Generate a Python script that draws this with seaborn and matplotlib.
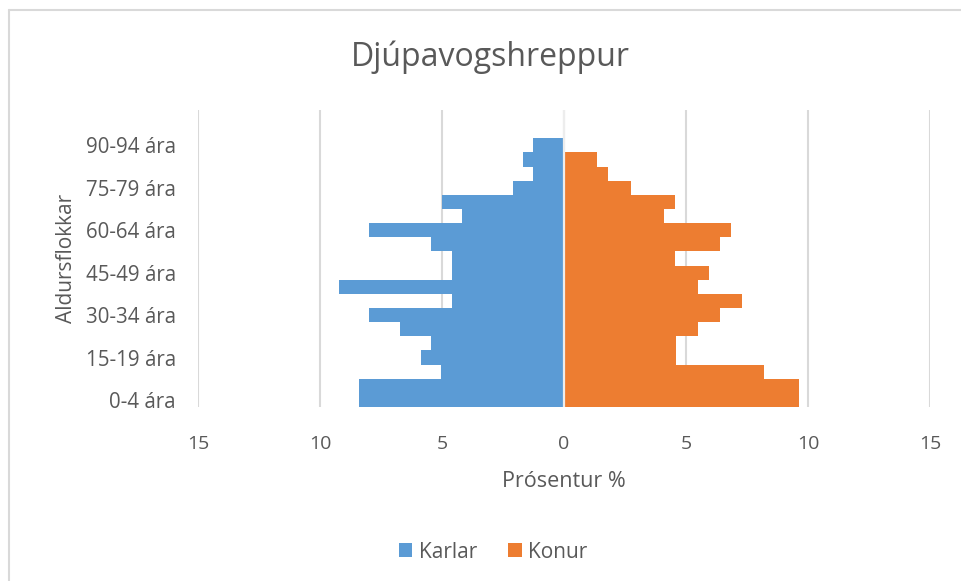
import matplotlib
matplotlib.use("Agg")
import matplotlib.pyplot as plt
from matplotlib.ticker import FixedLocator, FuncFormatter
from matplotlib.lines import Line2D
from matplotlib.patches import Patch
import seaborn as sns
import pandas as pd

# Age groups, youngest first
age_groups = ["0-4 ára", "5-9 ára", "10-14 ára", "15-19 ára", "20-24 ára",
              "25-29 ára", "30-34 ára", "35-39 ára", "40-44 ára", "45-49 ára",
              "50-54 ára", "55-59 ára", "60-64 ára", "65-69 ára", "70-74 ára",
              "75-79 ára", "80-84 ára", "85-89 ára", "90-94 ára"]

# Share of each age group, percent
karlar = [8.39, 8.39, 5.04, 5.87, 5.45, 6.72, 7.98, 4.60, 9.22, 4.60,
          4.60, 5.45, 7.98, 4.19, 5.01, 2.09, 1.26, 1.67, 1.26]
konur = [9.62, 9.62, 8.20, 4.58, 4.58, 5.48, 6.41, 7.31, 5.48, 5.94,
         4.56, 6.41, 6.83, 4.11, 4.56, 2.73, 1.79, 1.37, 0.0]

labelled_groups = ["0-4 ára", "15-19 ára", "30-34 ára", "45-49 ára",
                   "60-64 ára", "75-79 ára", "90-94 ára"]
x_ticks = [-15, -10, -5, 0, 5, 10, 15]

blue = "#5B9BD5"
orange = "#ED7D31"
grid_col = "#D9D9D9"
text_col = "#595959"

sns.set_theme(style="white")
plt.rcParams["font.family"] = ["Open Sans", "DejaVu Sans"]

df = pd.concat([
    pd.DataFrame({"Aldur": age_groups, "Prósenta": [-v for v in karlar], "Kyn": "Karlar"}),
    pd.DataFrame({"Aldur": age_groups, "Prósenta": konur, "Kyn": "Konur"}),
])

fig = plt.figure(figsize=(9.61, 5.81), dpi=100)
ax = fig.add_axes([198 / 961, 1 - 407 / 581, (930 - 198) / 961, (407 - 110) / 581])

order = age_groups[::-1]
sns.barplot(data=df, y="Aldur", x="Prósenta", hue="Kyn", order=order,
            hue_order=["Karlar", "Konur"], palette=[blue, orange],
            orient="h", dodge=False, width=1.0, edgecolor="none",
            linewidth=0, saturation=1, ax=ax, legend=False)

ax.set_xlim(-15, 15)
ax.set_ylim(len(order) - 0.5, -2.5)
ax.xaxis.set_major_locator(FixedLocator(x_ticks))
ax.xaxis.set_major_formatter(FuncFormatter(lambda v, p: f"{abs(v):g}"))
ax.set_yticks([order.index(g) for g in labelled_groups])
ax.set_yticklabels(labelled_groups)

ax.grid(axis="x", color=grid_col, linewidth=1.5)
ax.grid(axis="y", visible=False)
ax.set_axisbelow(True)
# thin light seam between the two halves of the pyramid
ax.axvline(0, color="#EDEDED", linewidth=1.6, zorder=3)
for s in ax.spines.values():
    s.set_visible(False)

ax.tick_params(axis="x", length=0, pad=20, labelsize=14, labelcolor=text_col)
ax.tick_params(axis="y", length=0, pad=16, labelsize=14.8, labelcolor=text_col)

ax.set_xlabel("Prósentur %", fontsize=15.5, color=text_col, labelpad=13)
ax.set_ylabel("Aldursflokkar", fontsize=15, color=text_col, labelpad=6)

fig.text(490 / 961, 1 - 57 / 581, "Djúpavogshreppur", ha="center", va="center",
         fontsize=23, color=text_col)

handles = [Patch(facecolor=blue, edgecolor="none", label="Karlar"),
           Patch(facecolor=orange, edgecolor="none", label="Konur")]
fig.legend(handles=handles, loc="center", bbox_to_anchor=(493 / 961, 1 - 552 / 581),
           ncol=2, frameon=False, fontsize=15, labelcolor=text_col,
           handlelength=0.65, handleheight=0.65, handletextpad=0.3, columnspacing=1.5)

# Chart area outline
fig.add_artist(Line2D([9 / 961, 9 / 961], [0, 1 - 10 / 581], transform=fig.transFigure,
                      color=grid_col, linewidth=1.5))
fig.add_artist(Line2D([9 / 961, 1], [1 - 10 / 581, 1 - 10 / 581], transform=fig.transFigure,
                      color=grid_col, linewidth=1.5))

fig.savefig("out.png", dpi=100, facecolor="white")
